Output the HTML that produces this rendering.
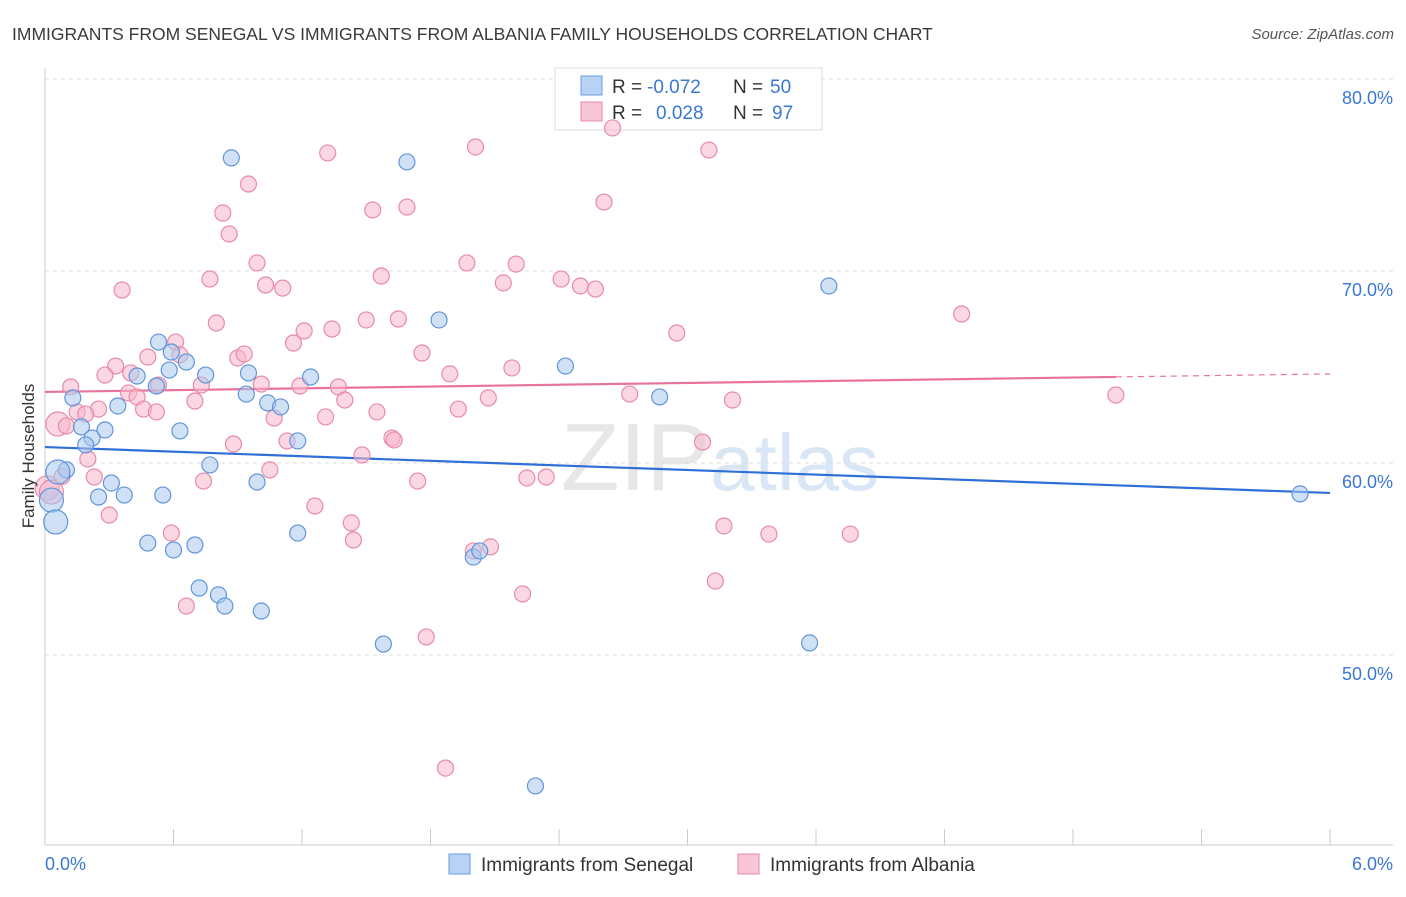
<!DOCTYPE html>
<html><head><meta charset="utf-8"><style>
body{margin:0;background:#fff;font-family:"Liberation Sans",sans-serif;}
svg text{font-family:"Liberation Sans",sans-serif;}
</style></head><body>
<svg width="1406" height="892" xmlns="http://www.w3.org/2000/svg">
<text x="12" y="40" font-size="17.5" fill="#3a3a3a">IMMIGRANTS FROM SENEGAL VS IMMIGRANTS FROM ALBANIA FAMILY HOUSEHOLDS CORRELATION CHART</text>
<text x="1394" y="39" font-size="15" fill="#555" font-style="italic" text-anchor="end">Source: ZipAtlas.com</text>
<text x="720" y="490" font-size="96" fill="#e2e2e2" text-anchor="middle" font-family="Liberation Serif" opacity="0.8">ZIP<tspan fill="#d0e0f3" font-family="Liberation Sans" font-size="80">atlas</tspan></text>
<g id="grid"></g>
<g id="axes"></g>
<g>
<rect x="555" y="68" width="267" height="62" fill="#fff" stroke="#ddd"/>
<rect x="581" y="76" width="21" height="19" fill="#b8d2f4" stroke="#6a9de0"/>
<rect x="581" y="102" width="21" height="19" fill="#f9c6d6" stroke="#e88aa8"/>
<text x="612" y="93" font-size="19" fill="#333">R =</text>
<text x="647" y="93" font-size="19" fill="#3a78d4">-0.072</text>
<text x="733" y="93" font-size="19" fill="#333">N =</text>
<text x="770" y="93" font-size="19" fill="#3a78d4">50</text>
<text x="612" y="119" font-size="19" fill="#333">R =</text>
<text x="656" y="119" font-size="19" fill="#3a78d4">0.028</text>
<text x="733" y="119" font-size="19" fill="#333">N =</text>
<text x="772" y="119" font-size="19" fill="#3a78d4">97</text>
</g>
<g id="lines"></g>
<g id="pts"></g>
<text x="34" y="456" font-size="17" fill="#333" text-anchor="middle" transform="rotate(-90 34 456)">Family Households</text>
<g>
<rect x="449" y="854" width="21" height="20" fill="#b8d2f4" stroke="#6a9de0"/>
<text x="481" y="871" font-size="19" fill="#333">Immigrants from Senegal</text>
<rect x="738" y="854" width="21" height="20" fill="#f9c6d6" stroke="#e88aa8"/>
<text x="770" y="871" font-size="19" fill="#333">Immigrants from Albania</text>
</g>
</svg>
<script>
const yTicks=[50,60,70,80];
const xTickLabels=["0.0%","6.0%"];
const blueX=[0.87,1.69,3.66,1.84,0.53,0.59,0.66,2.43,0.58,0.75,0.95,0.43,1.24,0.52,0.94,1.04,1.10,0.13,0.34,2.87,0.17,0.28,0.63,1.18,0.22,0.19,0.77,0.10,0.06,0.31,0.99,0.25,0.37,0.55,0.03,0.05,0.48,0.70,0.60,1.18,2.00,2.03,0.72,0.81,0.84,1.01,1.58,3.57,2.29,5.86];
const blueY=[75.89,75.68,69.22,67.45,66.30,65.78,65.26,65.05,64.84,64.58,64.69,64.53,64.48,64.01,63.59,63.13,62.92,63.39,62.97,63.44,61.88,61.72,61.67,61.15,61.30,60.94,59.90,59.64,59.53,58.96,59.01,58.23,58.33,58.33,58.07,56.93,55.83,55.73,55.47,56.35,55.10,55.42,53.49,53.13,52.55,52.29,50.57,50.63,43.18,58.39];
const pinkX=[2.65,2.01,1.32,3.10,0.95,0.83,1.53,1.69,2.61,0.86,0.99,1.97,2.20,1.57,0.77,2.41,2.14,2.50,2.57,1.03,1.11,0.36,4.28,0.80,1.50,1.65,1.21,1.34,2.95,1.16,0.61,1.76,0.63,0.90,0.93,0.48,0.33,2.18,0.40,0.28,1.89,1.01,0.73,1.19,1.37,0.53,0.39,0.43,0.70,1.40,2.07,2.73,3.21,5.00,0.12,0.46,0.52,0.25,0.15,0.19,1.55,1.93,1.31,1.07,0.06,0.10,1.13,1.62,1.63,3.07,0.88,0.20,1.48,1.05,2.25,2.34,0.23,0.74,1.74,0.01,0.03,1.26,0.30,1.43,3.17,3.38,3.76,0.59,1.44,2.00,2.08,3.13,2.23,0.66,1.78,1.87,0.08];
const pinkY=[77.45,76.46,76.15,76.30,74.53,73.02,73.18,73.33,73.59,71.93,70.42,70.42,70.36,69.74,69.58,69.58,69.38,69.22,69.06,69.27,69.11,69.01,67.76,67.29,67.45,67.50,66.88,66.98,66.77,66.25,66.30,65.73,65.63,65.47,65.68,65.52,65.05,64.95,64.69,64.58,64.64,64.11,64.06,64.01,63.96,64.06,63.65,63.44,63.23,63.28,63.39,63.59,63.28,63.54,63.96,62.81,62.66,62.81,62.66,62.55,62.66,62.81,62.40,62.34,62.03,61.93,61.15,61.30,61.20,61.09,60.99,60.21,60.42,59.64,59.22,59.27,59.27,59.06,59.06,58.70,58.49,57.76,57.29,56.88,56.72,56.30,56.30,56.35,55.99,55.42,55.63,53.85,53.18,52.55,50.94,44.11,59.30];
const blueTrend=[60.83,58.44];
const pinkTrend=[63.70,64.64];
const pinkSolidEnd=5.0;
const NS="http://www.w3.org/2000/svg";
const sx=v=>45+v*214.17, sy=v=>79+(80-v)*19.2;
function mk(tag,attrs,parent){const e=document.createElementNS(NS,tag);for(const k in attrs)e.setAttribute(k,attrs[k]);parent.appendChild(e);return e;}
const grid=document.getElementById('grid'),axes=document.getElementById('axes'),lines=document.getElementById('lines'),pts=document.getElementById('pts');
yTicks.forEach(t=>{
  const l=mk('line',{x1:45,x2:1393,y1:sy(t),y2:sy(t),stroke:'#ddd','stroke-dasharray':'4,4'},grid);
  
  
  const tx=mk('text',{x:1393,y:sy(t)+25,'font-size':18,fill:'#3a78d4','text-anchor':'end'},axes);
  tx.textContent=t.toFixed(1)+'%';
  
  
});
mk('line',{x1:45,x2:45,y1:68,y2:845,stroke:'#ccc'},axes);
mk('line',{x1:45,x2:1393,y1:845,y2:845,stroke:'#ccc'},axes);
for(let i=0;i<=10;i++){const x=sx(i*0.6);const t=mk('line',{x1:x,x2:x,y1:829,y2:845,stroke:'#ccc'},axes);}
[[0,'start',45],[6,'end',1393]].forEach((d,i)=>{const t=mk('text',{x:d[2],y:870,'font-size':18,fill:'#3a78d4','text-anchor':d[1]},axes);t.textContent=xTickLabels[i];});
function dots(X,Y,fill,stroke,name){X.forEach((x,i)=>{const r=x<0.08?12:8;const c=mk('circle',{cx:sx(x),cy:sy(Y[i]),r:r,fill:fill,'fill-opacity':0.55,stroke:stroke,'stroke-width':1.2},pts);

});}
dots(pinkX,pinkY,'#f7b6ca','#e88aa8','albania-point');
dots(blueX,blueY,'#a9c8ee','#5f95dc','senegal-point');
const bl=mk('line',{x1:sx(0),y1:sy(blueTrend[0]),x2:sx(6),y2:sy(blueTrend[1]),stroke:'#2f6fd6','stroke-width':2.2},lines);


const pAt=x=>pinkTrend[0]+(pinkTrend[1]-pinkTrend[0])*x/6;
const pl=mk('line',{x1:sx(0),y1:sy(pAt(0)),x2:sx(pinkSolidEnd),y2:sy(pAt(pinkSolidEnd)),stroke:'#e8729a','stroke-width':2.2},lines);


const pd=mk('line',{x1:sx(pinkSolidEnd),y1:sy(pAt(pinkSolidEnd)),x2:sx(6),y2:sy(pAt(6)),stroke:'#e8729a','stroke-width':1.2,'stroke-dasharray':'6,5'},lines);


</script>
</body></html>
